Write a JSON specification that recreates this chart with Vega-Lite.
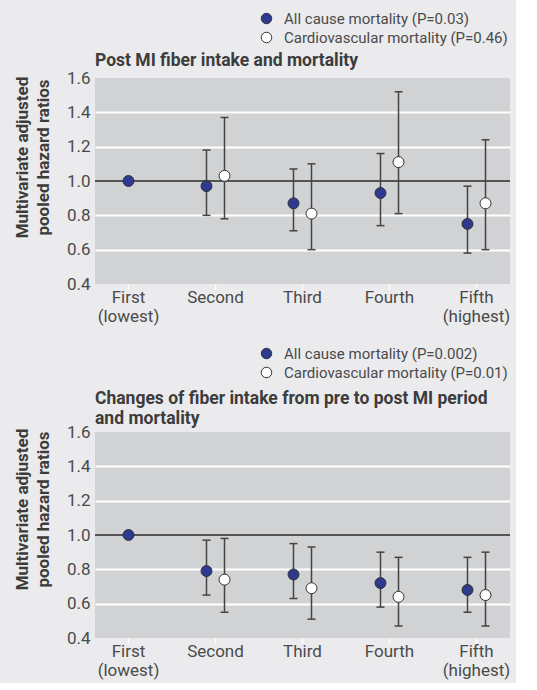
{
  "$schema": "https://vega.github.io/schema/vega-lite/v6.json",
  "background": "#ebebed",
  "padding": {"left": 13, "top": 11, "right": 5, "bottom": 5},
  "config": {
    "font": "Roboto",
    "view": {"fill": "#d1d2d4", "stroke": null},
    "axis": {"labelColor": "#4a4a4a", "labelFontSize": 17, "titleColor": "#3c3c3c", "titleFontSize": 17, "titleFontWeight": "bold", "labelOverlap": false},
    "axisY": {"values": [0.4, 0.6, 0.8, 1.0, 1.2, 1.4, 1.6], "format": ".1f", "domain": false, "ticks": false, "labelPadding": 5, "grid": true, "gridColor": "#ffffff", "gridWidth": 2, "titlePadding": 14, "titleLineHeight": 21},
    "legend": {"labelColor": "#4a4a4a", "labelFontSize": 15, "labelLimit": 400, "symbolSize": 110, "symbolStrokeColor": "#333333", "symbolStrokeWidth": 1, "rowPadding": 3, "labelOffset": 10},
    "title": {"anchor": "start", "frame": "group", "fontSize": 17.5, "fontWeight": "bold", "color": "#3c3c3c", "lineHeight": 20}
  },
  "datasets": {
    "top": [
      {"quintile": "First (lowest)", "series": "All cause mortality (P=0.03)", "hr": 1.0, "lo": 1.0, "hi": 1.0},
      {"quintile": "Second", "series": "All cause mortality (P=0.03)", "hr": 0.97, "lo": 0.80, "hi": 1.18},
      {"quintile": "Second", "series": "Cardiovascular mortality (P=0.46)", "hr": 1.03, "lo": 0.78, "hi": 1.37},
      {"quintile": "Third", "series": "All cause mortality (P=0.03)", "hr": 0.87, "lo": 0.71, "hi": 1.07},
      {"quintile": "Third", "series": "Cardiovascular mortality (P=0.46)", "hr": 0.81, "lo": 0.60, "hi": 1.10},
      {"quintile": "Fourth", "series": "All cause mortality (P=0.03)", "hr": 0.93, "lo": 0.74, "hi": 1.16},
      {"quintile": "Fourth", "series": "Cardiovascular mortality (P=0.46)", "hr": 1.11, "lo": 0.81, "hi": 1.52},
      {"quintile": "Fifth (highest)", "series": "All cause mortality (P=0.03)", "hr": 0.75, "lo": 0.58, "hi": 0.97},
      {"quintile": "Fifth (highest)", "series": "Cardiovascular mortality (P=0.46)", "hr": 0.87, "lo": 0.60, "hi": 1.24}
    ],
    "bottom": [
      {"quintile": "First (lowest)", "series": "All cause mortality (P=0.002)", "hr": 1.0, "lo": 1.0, "hi": 1.0},
      {"quintile": "Second", "series": "All cause mortality (P=0.002)", "hr": 0.79, "lo": 0.65, "hi": 0.97},
      {"quintile": "Second", "series": "Cardiovascular mortality (P=0.01)", "hr": 0.74, "lo": 0.55, "hi": 0.98},
      {"quintile": "Third", "series": "All cause mortality (P=0.002)", "hr": 0.77, "lo": 0.63, "hi": 0.95},
      {"quintile": "Third", "series": "Cardiovascular mortality (P=0.01)", "hr": 0.69, "lo": 0.51, "hi": 0.93},
      {"quintile": "Fourth", "series": "All cause mortality (P=0.002)", "hr": 0.72, "lo": 0.58, "hi": 0.90},
      {"quintile": "Fourth", "series": "Cardiovascular mortality (P=0.01)", "hr": 0.64, "lo": 0.47, "hi": 0.87},
      {"quintile": "Fifth (highest)", "series": "All cause mortality (P=0.002)", "hr": 0.68, "lo": 0.55, "hi": 0.87},
      {"quintile": "Fifth (highest)", "series": "Cardiovascular mortality (P=0.01)", "hr": 0.65, "lo": 0.47, "hi": 0.90}
    ]
  },
  "resolve": {"scale": {"fill": "independent", "x": "independent", "y": "independent", "xOffset": "independent"}, "legend": {"fill": "independent"}},
  "spacing": 22,
  "vconcat": [
    {
      "width": 415,
      "height": 206,
      "data": {"name": "top"},
      "title": {"text": "Post MI fiber intake and mortality", "offset": 6, "dy": 64},
      "layer": [
        {
          "mark": {"type": "rule", "color": "#555555", "strokeWidth": 1.5},
          "encoding": {
            "y": {"datum": 1.0, "type": "quantitative", "scale": {"domain": [0.4, 1.6], "nice": false},
              "axis": {"title": ["Multivariate adjusted", "pooled hazard ratios"], "titleY": 79, "values": [0.4, 0.6, 0.8, 1.0, 1.2, 1.4, 1.6], "tickCount": 7, "gridOpacity": {"condition": {"test": "datum.value < 0.45 || datum.value > 1.55 || (datum.value > 0.95 && datum.value < 1.05)", "value": 0}, "value": 1}}}
          }
        },
        {
          "transform": [{"filter": "datum.quintile != 'First (lowest)'"}],
          "mark": {"type": "rule", "color": "#444444", "strokeWidth": 1.5},
          "encoding": {
            "x": {"field": "quintile", "type": "nominal", "sort": ["First (lowest)", "Second", "Third", "Fourth", "Fifth (highest)"]},
            "xOffset": {"field": "series", "type": "nominal", "scale": {"type": "point", "padding": 0.5}},
            "y": {"field": "lo", "type": "quantitative"},
            "y2": {"field": "hi"}
          }
        },
        {
          "transform": [{"filter": "datum.quintile != 'First (lowest)'"}],
          "mark": {"type": "tick", "color": "#444444", "thickness": 1.5, "size": 8, "opacity": 1},
          "encoding": {
            "x": {"field": "quintile", "type": "nominal", "sort": ["First (lowest)", "Second", "Third", "Fourth", "Fifth (highest)"]},
            "xOffset": {"field": "series", "type": "nominal", "scale": {"type": "point", "padding": 0.5}},
            "y": {"field": "lo", "type": "quantitative"}
          }
        },
        {
          "transform": [{"filter": "datum.quintile != 'First (lowest)'"}],
          "mark": {"type": "tick", "color": "#444444", "thickness": 1.5, "size": 8, "opacity": 1},
          "encoding": {
            "x": {"field": "quintile", "type": "nominal", "sort": ["First (lowest)", "Second", "Third", "Fourth", "Fifth (highest)"]},
            "xOffset": {"field": "series", "type": "nominal", "scale": {"type": "point", "padding": 0.5}},
            "y": {"field": "hi", "type": "quantitative"}
          }
        },
        {
          "transform": [{"filter": "datum.quintile != 'First (lowest)'"}],
          "mark": {"type": "point", "shape": "circle", "filled": true, "size": 120, "stroke": "#333333", "strokeWidth": 1, "opacity": 1},
          "encoding": {
            "x": {"field": "quintile", "type": "nominal", "sort": ["First (lowest)", "Second", "Third", "Fourth", "Fifth (highest)"]},
            "xOffset": {"field": "series", "type": "nominal", "scale": {"type": "point", "padding": 0.5}},
            "y": {"field": "hr", "type": "quantitative"},
            "fill": {"field": "series", "type": "nominal", "scale": {"range": ["#2d3a8e", "#ffffff"]},
              "legend": {"title": null, "orient": "none", "legendX": 164, "legendY": -67}}
          }
        },
        {
          "transform": [{"filter": "datum.quintile == 'First (lowest)'"}],
          "mark": {"type": "point", "shape": "circle", "filled": true, "size": 120, "stroke": "#333333", "strokeWidth": 1, "opacity": 1},
          "encoding": {
            "x": {"field": "quintile", "type": "nominal", "sort": ["First (lowest)", "Second", "Third", "Fourth", "Fifth (highest)"],
              "scale": {"paddingInner": 0.586, "paddingOuter": 0.178},
              "axis": {"title": null, "domain": false, "ticks": true, "labelAlign": "center", "tickColor": "#ffffff", "tickWidth": 1.5, "tickSize": 5, "labelAngle": 0, "labelPadding": 8, "labelLineHeight": 19, "labelExpr": "split(datum.label, ' ')"}},
            "y": {"field": "hr", "type": "quantitative"},
            "fill": {"field": "series", "type": "nominal"}
          }
        }
      ]
    },
    {
      "width": 415,
      "height": 206,
      "data": {"name": "bottom"},
      "title": {"text": ["Changes of fiber intake from pre to post MI period", "and mortality"], "offset": 6, "dy": 87},
      "layer": [
        {
          "mark": {"type": "rule", "color": "#555555", "strokeWidth": 1.5},
          "encoding": {
            "y": {"datum": 1.0, "type": "quantitative", "scale": {"domain": [0.4, 1.6], "nice": false},
              "axis": {"title": ["Multivariate adjusted", "pooled hazard ratios"], "titleY": 77, "values": [0.4, 0.6, 0.8, 1.0, 1.2, 1.4, 1.6], "tickCount": 7, "gridOpacity": {"condition": {"test": "datum.value < 0.45 || datum.value > 1.55 || (datum.value > 0.95 && datum.value < 1.05)", "value": 0}, "value": 1}}}
          }
        },
        {
          "transform": [{"filter": "datum.quintile != 'First (lowest)'"}],
          "mark": {"type": "rule", "color": "#444444", "strokeWidth": 1.5},
          "encoding": {
            "x": {"field": "quintile", "type": "nominal", "sort": ["First (lowest)", "Second", "Third", "Fourth", "Fifth (highest)"]},
            "xOffset": {"field": "series", "type": "nominal", "scale": {"type": "point", "padding": 0.5}},
            "y": {"field": "lo", "type": "quantitative"},
            "y2": {"field": "hi"}
          }
        },
        {
          "transform": [{"filter": "datum.quintile != 'First (lowest)'"}],
          "mark": {"type": "tick", "color": "#444444", "thickness": 1.5, "size": 8, "opacity": 1},
          "encoding": {
            "x": {"field": "quintile", "type": "nominal", "sort": ["First (lowest)", "Second", "Third", "Fourth", "Fifth (highest)"]},
            "xOffset": {"field": "series", "type": "nominal", "scale": {"type": "point", "padding": 0.5}},
            "y": {"field": "lo", "type": "quantitative"}
          }
        },
        {
          "transform": [{"filter": "datum.quintile != 'First (lowest)'"}],
          "mark": {"type": "tick", "color": "#444444", "thickness": 1.5, "size": 8, "opacity": 1},
          "encoding": {
            "x": {"field": "quintile", "type": "nominal", "sort": ["First (lowest)", "Second", "Third", "Fourth", "Fifth (highest)"]},
            "xOffset": {"field": "series", "type": "nominal", "scale": {"type": "point", "padding": 0.5}},
            "y": {"field": "hi", "type": "quantitative"}
          }
        },
        {
          "transform": [{"filter": "datum.quintile != 'First (lowest)'"}],
          "mark": {"type": "point", "shape": "circle", "filled": true, "size": 120, "stroke": "#333333", "strokeWidth": 1, "opacity": 1},
          "encoding": {
            "x": {"field": "quintile", "type": "nominal", "sort": ["First (lowest)", "Second", "Third", "Fourth", "Fifth (highest)"]},
            "xOffset": {"field": "series", "type": "nominal", "scale": {"type": "point", "padding": 0.5}},
            "y": {"field": "hr", "type": "quantitative"},
            "fill": {"field": "series", "type": "nominal", "scale": {"range": ["#2d3a8e", "#ffffff"]},
              "legend": {"title": null, "orient": "none", "legendX": 164, "legendY": -86}}
          }
        },
        {
          "transform": [{"filter": "datum.quintile == 'First (lowest)'"}],
          "mark": {"type": "point", "shape": "circle", "filled": true, "size": 120, "stroke": "#333333", "strokeWidth": 1, "opacity": 1},
          "encoding": {
            "x": {"field": "quintile", "type": "nominal", "sort": ["First (lowest)", "Second", "Third", "Fourth", "Fifth (highest)"],
              "scale": {"paddingInner": 0.586, "paddingOuter": 0.178},
              "axis": {"title": null, "domain": false, "ticks": true, "labelAlign": "center", "tickColor": "#ffffff", "tickWidth": 1.5, "tickSize": 5, "labelAngle": 0, "labelPadding": 8, "labelLineHeight": 19, "labelExpr": "split(datum.label, ' ')"}},
            "y": {"field": "hr", "type": "quantitative"},
            "fill": {"field": "series", "type": "nominal"}
          }
        }
      ]
    }
  ]
}
